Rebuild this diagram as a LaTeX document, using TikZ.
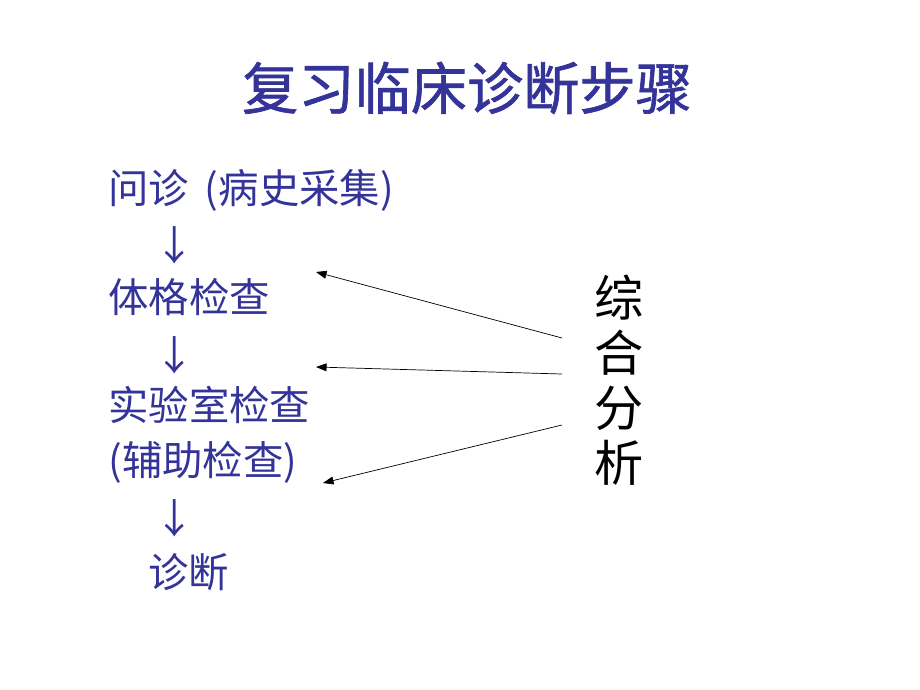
\documentclass[tikz,border=0pt]{standalone}
\usepackage{fontspec}
\setmainfont{Liberation Sans}
\newfontfamily\cjk{Noto Sans CJK SC}
\newfontfamily\cjktitle[FakeBold=1.2]{Noto Sans CJK SC}
\usetikzlibrary{arrows.meta}
\definecolor{slideblue}{RGB}{51,51,153}
\tikzstyle{arrow} = [thin,-{Triangle[length=6pt,width=4.5pt]}]
\tikzset{steptext/.style={anchor=west,inner sep=0pt,text=slideblue,font=\cjk\fontsize{23}{27}\selectfont},
    down/.style={inner sep=0pt,text=slideblue,font=\cjk\fontsize{23}{27}\selectfont}}

\begin{document}
\begin{tikzpicture}[x=0.02cm,y=-0.02cm]
    \useasboundingbox (0,0) rectangle (920,690);
    \node [text=slideblue, font=\cjktitle\fontsize{32}{36}\selectfont] (title) at (467,88) {复习临床诊断步骤};

    \node [steptext] (step1) at (108,190) {问诊 \,(病史采集)};
    \node [down] (down1) at (175,245) {↓};
    \node [steptext] (step2) at (108,297) {体格检查};
    \node [down] (down2) at (175,355) {↓};
    \node [steptext] (step3) at (108,405) {实验室检查};
    \node [steptext] (step3b) at (108,462) {(辅助检查)};
    \node [down] (down3) at (175,518) {↓};
    \node [steptext] (step4) at (148,572) {诊断};

    \node [align=center, inner sep=0pt, font=\cjk\fontsize{28}{31.3}\selectfont] (summary) at (619,380) {综\\合\\分\\析};

    % arrows from the summary back to the steps
    \coordinate (from1) at (562,338);
    \coordinate (from2) at (562,374);
    \coordinate (from3) at (562,425);
    \coordinate (to1) at (316,272);
    \coordinate (to2) at (316,367);
    \coordinate (to3) at (323,483);
    \foreach \m in {1,2,3}
        {
        \draw [arrow] (from\m) -- (to\m);
        }
\end{tikzpicture}
\end{document}
